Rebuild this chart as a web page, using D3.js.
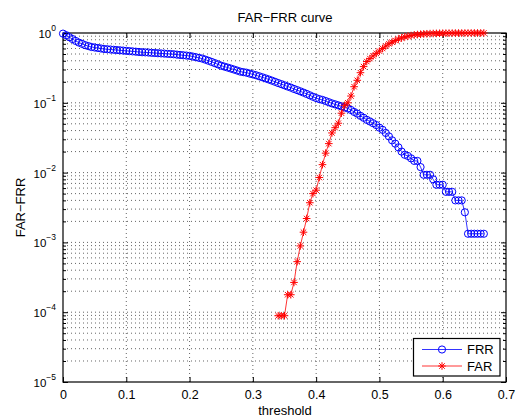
<!DOCTYPE html>
<html>
<head>
<meta charset="utf-8">
<script src="https://cdn.jsdelivr.net/npm/d3@7"></script>
<style>
  body { margin: 0; background: #fff; }
  svg { display: block; }
  text { font-family: "Liberation Sans", Arial, Helvetica, sans-serif; fill: #000; }
</style>
</head>
<body>
<svg id="chart"></svg>
<script>
// threshold values (x axis)
const thresholds = [
  0, 0.005, 0.01, 0.015, 0.02, 0.025, 0.03, 0.035, 0.04, 0.045,
  0.05, 0.055, 0.06, 0.065, 0.07, 0.075, 0.08, 0.085, 0.09, 0.095,
  0.1, 0.105, 0.11, 0.115, 0.12, 0.125, 0.13, 0.135, 0.14, 0.145,
  0.15, 0.155, 0.16, 0.165, 0.17, 0.175, 0.18, 0.185, 0.19, 0.195,
  0.2, 0.205, 0.21, 0.215, 0.22, 0.225, 0.23, 0.235, 0.24, 0.245,
  0.25, 0.255, 0.26, 0.265, 0.27, 0.275, 0.28, 0.285, 0.29, 0.295,
  0.3, 0.305, 0.31, 0.315, 0.32, 0.325, 0.33, 0.335, 0.34, 0.345,
  0.35, 0.355, 0.36, 0.365, 0.37, 0.375, 0.38, 0.385, 0.39, 0.395,
  0.4, 0.405, 0.41, 0.415, 0.42, 0.425, 0.43, 0.435, 0.44, 0.445,
  0.45, 0.455, 0.46, 0.465, 0.47, 0.475, 0.48, 0.485, 0.49, 0.495,
  0.5, 0.505, 0.51, 0.515, 0.52, 0.525, 0.53, 0.535, 0.54, 0.545,
  0.55, 0.555, 0.56, 0.565, 0.57, 0.575, 0.58, 0.585, 0.59, 0.595,
  0.6, 0.605, 0.61, 0.615, 0.62, 0.625, 0.63, 0.635, 0.64, 0.645,
  0.65, 0.655, 0.66, 0.665
];

// false rejection rate
const frr = [
  0.98, 0.93, 0.87, 0.82, 0.77, 0.73, 0.70, 0.67, 0.65, 0.63,
  0.62, 0.61, 0.60, 0.59, 0.585, 0.58, 0.575, 0.57, 0.565, 0.56,
  0.555, 0.55, 0.545, 0.54, 0.535, 0.53, 0.528, 0.525, 0.52, 0.517,
  0.513, 0.51, 0.507, 0.503, 0.50, 0.496, 0.49, 0.485, 0.48, 0.475,
  0.47, 0.46, 0.45, 0.44, 0.43, 0.415, 0.40, 0.385, 0.37, 0.355,
  0.34, 0.33, 0.32, 0.31, 0.30, 0.29, 0.28, 0.275, 0.27, 0.262,
  0.255, 0.248, 0.24, 0.232, 0.224, 0.216, 0.208, 0.2, 0.192, 0.185,
  0.178, 0.171, 0.165, 0.158, 0.152, 0.146, 0.14, 0.134, 0.128, 0.122,
  0.117, 0.113, 0.11, 0.106, 0.102, 0.098, 0.095, 0.092, 0.089, 0.086,
  0.083, 0.079, 0.074, 0.07, 0.065, 0.061, 0.057, 0.054, 0.051, 0.048,
  0.044, 0.041, 0.037, 0.033, 0.029, 0.026, 0.023, 0.02, 0.018, 0.0173,
  0.016, 0.0147, 0.0147, 0.012, 0.0093, 0.0093, 0.0093, 0.008, 0.0067, 0.0067,
  0.0067, 0.0053, 0.0053, 0.0053, 0.004, 0.004, 0.004, 0.0027, 0.00133, 0.00133,
  0.00133, 0.00133, 0.00133, 0.00133
];

// false acceptance rate (0 below threshold 0.34, not shown on log axis)
const far = [
  0, 0, 0, 0, 0, 0, 0, 0, 0, 0,
  0, 0, 0, 0, 0, 0, 0, 0, 0, 0,
  0, 0, 0, 0, 0, 0, 0, 0, 0, 0,
  0, 0, 0, 0, 0, 0, 0, 0, 0, 0,
  0, 0, 0, 0, 0, 0, 0, 0, 0, 0,
  0, 0, 0, 0, 0, 0, 0, 0, 0, 0,
  0, 0, 0, 0, 0, 0, 0, 0, 8.9e-5, 8.9e-5,
  8.9e-5, 1.78e-4, 1.78e-4, 2.67e-4, 5.3e-4, 8.9e-4, 1.4e-3, 2.2e-3, 3.7e-3, 5.0e-3,
  5.6e-3, 8.5e-3, 0.013, 0.019, 0.026, 0.037, 0.044, 0.051, 0.071, 0.092,
  0.100, 0.125, 0.17, 0.21, 0.27, 0.33, 0.39, 0.43, 0.47, 0.51,
  0.55, 0.60, 0.65, 0.70, 0.74, 0.78, 0.82, 0.85, 0.88, 0.90,
  0.92, 0.94, 0.95, 0.96, 0.97, 0.975, 0.98, 0.984, 0.987, 0.99,
  0.992, 0.994, 0.995, 0.996, 0.997, 0.998, 0.998, 0.999, 0.999, 0.9995,
  1.0, 1.0, 1.0, 1.0
];

const xTicks = [0, 0.1, 0.2, 0.3, 0.4, 0.5, 0.6, 0.7];
const yExponents = [-5, -4, -3, -2, -1, 0];
const seriesNames = ["FRR", "FAR"];
const seriesColors = ["#0000ff", "#ff0000"];

const width = 516, height = 418;
const plot = { left: 63, right: 506, top: 33, bottom: 382 };

const svg = d3.select("#chart").attr("width", width).attr("height", height);
svg.append("rect").attr("width", width).attr("height", height).attr("fill", "#fff");

const x = d3.scaleLinear().domain([0, 0.7]).range([plot.left, plot.right]);
const y = d3.scaleLog().domain([1e-5, 1]).range([plot.bottom, plot.top]);

const majorY = yExponents.map(e => Math.pow(10, e));
const minorY = [];
yExponents.slice(0, -1).forEach(e => {
  for (let m = 2; m <= 9; m++) minorY.push(m * Math.pow(10, e));
});

// grid (dotted)
const grid = svg.append("g")
  .attr("stroke", "#222")
  .attr("stroke-width", 0.7)
  .attr("stroke-dasharray", "1 3");

grid.selectAll(".vg").data(xTicks.slice(1, -1)).join("line")
  .attr("x1", d => x(d)).attr("x2", d => x(d))
  .attr("y1", plot.top).attr("y2", plot.bottom);

grid.selectAll(".hg").data(majorY.slice(1, -1).concat(minorY)).join("line")
  .attr("x1", plot.left).attr("x2", plot.right)
  .attr("y1", d => y(d)).attr("y2", d => y(d));

// axes with inward ticks
const noLabel = () => "";
svg.append("g").attr("transform", `translate(0,${plot.bottom})`)
  .call(d3.axisBottom(x).tickValues(xTicks).tickSize(-5).tickSizeOuter(0).tickPadding(8)
    .tickFormat(d3.format("")))
  .call(g => g.select(".domain").remove())
  .call(g => g.selectAll("text").attr("font-size", 12.5).attr("fill", "#000")
    .style("font-family", "'Liberation Sans', Arial, sans-serif"));

svg.append("g").attr("transform", `translate(0,${plot.top})`)
  .call(d3.axisTop(x).tickValues(xTicks).tickSize(-5).tickSizeOuter(0).tickFormat(noLabel))
  .call(g => g.select(".domain").remove());

[[d3.axisLeft, plot.left], [d3.axisRight, plot.right]].forEach(([ax, pos]) => {
  svg.append("g").attr("transform", `translate(${pos},0)`)
    .call(ax(y).tickValues(majorY).tickSize(-5).tickSizeOuter(0).tickFormat(noLabel))
    .call(g => g.select(".domain").remove());
  svg.append("g").attr("transform", `translate(${pos},0)`)
    .call(ax(y).tickValues(minorY).tickSize(-3).tickSizeOuter(0).tickFormat(noLabel))
    .call(g => g.select(".domain").remove());
});

// y tick labels 10^n
const yLab = svg.append("g").selectAll("text").data(yExponents).join("text")
  .attr("x", 56).attr("y", d => y(Math.pow(10, d)) + 5)
  .attr("text-anchor", "end");
yLab.append("tspan").attr("font-size", 11.5).text("10");
yLab.append("tspan").attr("font-size", 8.5).attr("dy", -7)
  .text(d => d < 0 ? "\u2212" + (-d) : String(d));

// box
svg.append("rect")
  .attr("x", plot.left).attr("y", plot.top)
  .attr("width", plot.right - plot.left).attr("height", plot.bottom - plot.top)
  .attr("fill", "none").attr("stroke", "#000").attr("stroke-width", 1.2);

// series
const frrPts = thresholds.map((t, i) => [t, frr[i]]).filter(d => d[1] > 0);
const farPts = thresholds.map((t, i) => [t, far[i]]).filter(d => d[1] > 0);
const line = d3.line().x(d => x(d[0])).y(d => y(d[1]));

const starPath = s => {
  const a = s * 0.72;
  return `M${-s},0H${s}M0,${-s}V${s}M${-a},${-a}L${a},${a}M${-a},${a}L${a},${-a}`;
};

svg.append("path").datum(frrPts).attr("d", line)
  .attr("fill", "none").attr("stroke", seriesColors[0]).attr("stroke-width", 0.8);
svg.append("g").selectAll("circle").data(frrPts).join("circle")
  .attr("cx", d => x(d[0])).attr("cy", d => y(d[1])).attr("r", 3.6)
  .attr("fill", "none").attr("stroke", seriesColors[0]).attr("stroke-width", 1);

svg.append("path").datum(farPts).attr("d", line)
  .attr("fill", "none").attr("stroke", seriesColors[1]).attr("stroke-width", 0.8);
svg.append("g").selectAll("path").data(farPts).join("path")
  .attr("transform", d => `translate(${x(d[0])},${y(d[1])})`)
  .attr("d", starPath(3.8))
  .attr("fill", "none").attr("stroke", seriesColors[1]).attr("stroke-width", 1);

// title and axis labels
svg.append("text").attr("x", 285).attr("y", 22).attr("text-anchor", "middle")
  .attr("font-size", 13).text("FAR\u2212FRR curve");
svg.append("text").attr("x", 285).attr("y", 415).attr("text-anchor", "middle")
  .attr("font-size", 13).text("threshold");
svg.append("text").attr("transform", `translate(24.5,${(plot.top + plot.bottom) / 2}) rotate(-90)`)
  .attr("text-anchor", "middle").attr("font-size", 13).text("FAR\u2212FRR");

// legend
const legend = svg.append("g");
legend.append("rect").attr("x", 413.5).attr("y", 338.5).attr("width", 86.5).attr("height", 37.5)
  .attr("fill", "#fff").attr("stroke", "#000").attr("stroke-width", 1.2);
seriesNames.forEach((name, i) => {
  const ly = 349.5 + i * 16.5;
  legend.append("line").attr("x1", 422).attr("x2", 462).attr("y1", ly).attr("y2", ly)
    .attr("stroke", seriesColors[i]).attr("stroke-width", 0.8);
  if (i === 0) {
    legend.append("circle").attr("cx", 442).attr("cy", ly).attr("r", 3.6)
      .attr("fill", "none").attr("stroke", seriesColors[i]).attr("stroke-width", 1);
  } else {
    legend.append("path").attr("transform", `translate(442,${ly})`).attr("d", starPath(3.8))
      .attr("fill", "none").attr("stroke", seriesColors[i]).attr("stroke-width", 1);
  }
  legend.append("text").attr("x", 467).attr("y", ly + 4.6).attr("font-size", 13).text(name);
});
</script>
</body>
</html>
